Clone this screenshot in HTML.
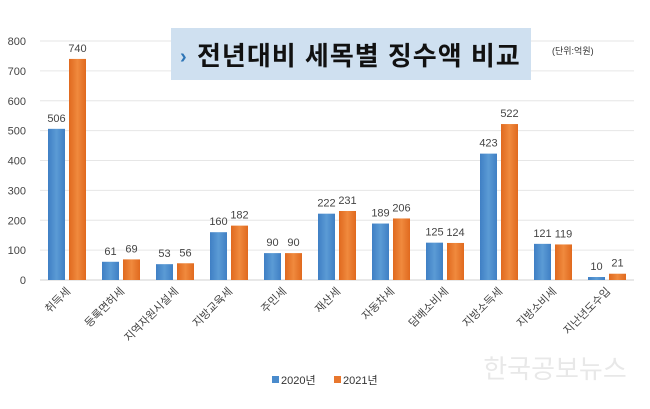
<!DOCTYPE html>
<html><head><meta charset="utf-8"><style>
body{margin:0;width:650px;height:404px;background:#fff;overflow:hidden;font-family:"Liberation Sans","Noto Sans CJK KR",sans-serif}
</style></head><body>
<svg width="650" height="404" id="c" style="font-family:'Liberation Sans','Noto Sans CJK KR',sans-serif">
<defs>
<linearGradient id="gb" x1="0" x2="1"><stop offset="0" stop-color="#3f7fc4"/><stop offset="0.5" stop-color="#5b9bd5"/><stop offset="1" stop-color="#3f7fc4"/></linearGradient>
<linearGradient id="go" x1="0" x2="1"><stop offset="0" stop-color="#e0691e"/><stop offset="0.5" stop-color="#f08a3e"/><stop offset="1" stop-color="#e0691e"/></linearGradient>
</defs>
<g id="grid"></g><g id="bars"></g>
<rect x="171" y="28" width="360" height="52" fill="#cfe0f0"/>
<text x="180" y="63" font-size="20" font-weight="bold" fill="#2e75b6">›</text>
<text x="197" y="65" font-size="26" font-weight="bold" fill="#111" letter-spacing="1">전년대비 세목별 징수액 비교</text>
<text x="552" y="54" font-size="9" fill="#333">(단위:억원)</text>
<text x="555" y="378" font-size="26" fill="#e8e8e8" text-anchor="middle">한국공보뉴스</text>
<g>
<rect x="272" y="376" width="7" height="7" fill="#4a8bcc"/>
<text x="281" y="384" font-size="11" fill="#333">2020년</text>
<rect x="334" y="376" width="7" height="7" fill="#e8772e"/>
<text x="343" y="384" font-size="11" fill="#333">2021년</text>
</g>
</svg>
<script>
const categories=["취득세","등록면허세","지역자원시설세","지방교육세","주민세","재산세","자동차세","담배소비세","지방소득세","지방소비세","지난년도수입"];
const values2020=[506,61,53,160,90,222,189,125,423,121,10];
const values2021=[740,69,56,182,90,231,206,124,522,119,21];
const yTicks=[0,100,200,300,400,500,600,700,800];
const NS="http://www.w3.org/2000/svg";
const x0=40,step=54,y0=280,yTop=41,yMax=800;
const y=v=>y0-(v/yMax)*(y0-yTop);
const cx=i=>x0+step*(i+0.5);
function mk(t,a,p){const e=document.createElementNS(NS,t);for(const k in a)e.setAttribute(k,a[k]);(p||document.getElementById('c')).appendChild(e);return e;}
const grid=document.getElementById('grid'),bars=document.getElementById('bars');
yTicks.forEach(v=>{
 const l=mk('line',{x1:x0,x2:634,y1:y(v),y2:y(v),stroke:v===0?'#d0d0d0':'#e6e6e6','stroke-width':1},grid);
 
 
 const t=mk('text',{x:26,y:y(v)+4,'font-size':11,fill:'#444','text-anchor':'end'},grid);
 t.textContent=v;
 
 
});
categories.forEach((c,i)=>{
 const bw=17,c0=cx(i);
 const b1=mk('rect',{x:c0-bw-2,y:y(values2020[i]),width:bw,height:y0-y(values2020[i]),fill:'url(#gb)'},bars);
 
 
 const b2=mk('rect',{x:c0+2,y:y(values2021[i]),width:bw,height:y0-y(values2021[i]),fill:'url(#go)'},bars);
 
 
 const t1=mk('text',{x:c0-bw/2-2,y:y(values2020[i])-7,'font-size':11,fill:'#444','text-anchor':'middle'},bars);
 t1.textContent=values2020[i];
 
 
 const t2=mk('text',{x:c0+bw/2+2,y:y(values2021[i])-7,'font-size':11,fill:'#444','text-anchor':'middle'},bars);
 t2.textContent=values2021[i];
 
 
 const lb=mk('text',{x:c0+4,y:292,'font-size':11,fill:'#444','text-anchor':'end',transform:`rotate(-45 ${c0+4} 292)`},bars);
 lb.textContent=c;
 
 
});
</script>
</body></html>
